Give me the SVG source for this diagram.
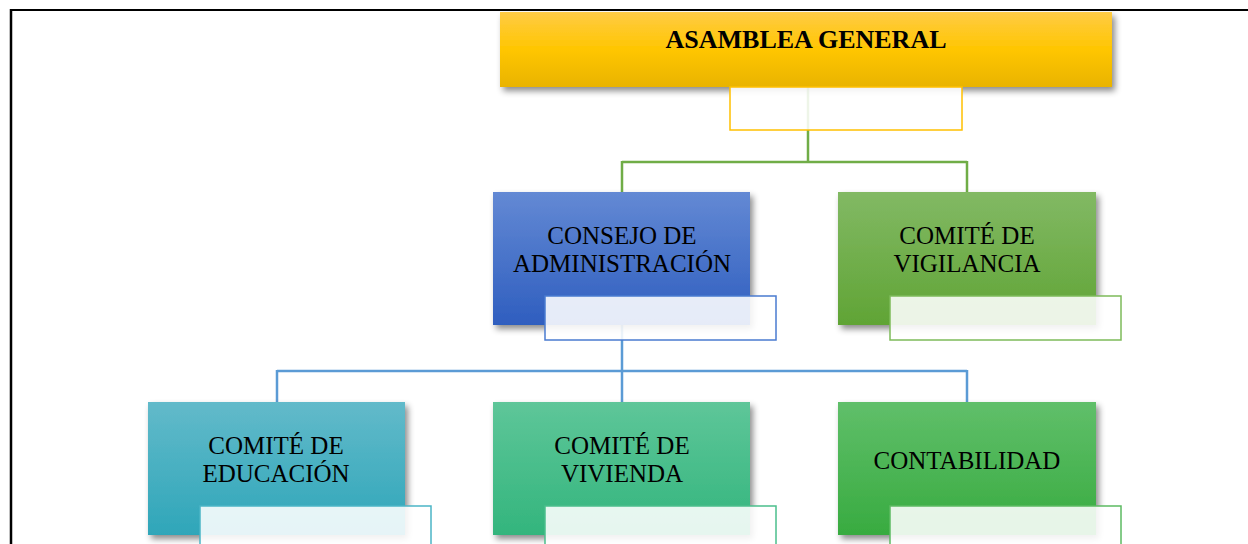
<svg xmlns="http://www.w3.org/2000/svg" width="1248" height="544" viewBox="0 0 1248 544">
<defs>
<linearGradient id="gGold" x1="0" y1="0" x2="0" y2="1"><stop offset="0" stop-color="#FFCB45"/><stop offset="0.5" stop-color="#FFC600"/><stop offset="1" stop-color="#E9B300"/></linearGradient>
<linearGradient id="gBlue" x1="0" y1="0" x2="0" y2="1"><stop offset="0" stop-color="#6389D4"/><stop offset="1" stop-color="#2F5EBF"/></linearGradient>
<linearGradient id="gOlive" x1="0" y1="0" x2="0" y2="1"><stop offset="0" stop-color="#82B964"/><stop offset="1" stop-color="#60A435"/></linearGradient>
<linearGradient id="gTeal" x1="0" y1="0" x2="0" y2="1"><stop offset="0" stop-color="#62BACA"/><stop offset="1" stop-color="#2FA6B9"/></linearGradient>
<linearGradient id="gMint" x1="0" y1="0" x2="0" y2="1"><stop offset="0" stop-color="#5EC699"/><stop offset="1" stop-color="#33B57D"/></linearGradient>
<linearGradient id="gGreen" x1="0" y1="0" x2="0" y2="1"><stop offset="0" stop-color="#60BF6A"/><stop offset="1" stop-color="#38AB40"/></linearGradient>
<filter id="shadow" x="-10%" y="-10%" width="125%" height="130%"><feDropShadow dx="3" dy="4" stdDeviation="3" flood-color="#000" flood-opacity="0.45"/></filter>
</defs>
<style>
.box{filter:url(#shadow);}
.sub{fill:#fff;fill-opacity:0.88;stroke-width:1.5;}
.lbl{font-family:"Liberation Serif","Times New Roman",serif;font-size:25px;fill:#000;text-anchor:middle;}
.bold{font-weight:bold;font-size:26px;}
.conn{fill:none;stroke-width:2.5;}
</style>
<rect width="1248" height="544" fill="#fff"/>
<g id="frame">
<line x1="10" y1="10" x2="1248" y2="10" stroke="#000" stroke-width="2"/>
<line x1="11" y1="9" x2="11" y2="544" stroke="#000" stroke-width="2.5"/>
</g>
<g id="connectors">
<path class="conn" stroke="#70AD47" d="M808,87 V162 M622,162 H967 M622,161 V192 M967,161 V192"/>
<path class="conn" stroke="#5B9BD5" d="M622,325 V371 M277,371 H967 M277,370 V402 M622,370 V402 M967,370 V402"/>
</g>
<g id="asamblea">
<rect class="box" x="500" y="12" width="612" height="75" fill="url(#gGold)"/>
<text class="lbl bold" x="806" y="48">ASAMBLEA GENERAL</text>
<rect class="sub" x="730" y="87" width="232" height="43" stroke="#FFC000"/>
</g>
<g id="consejo">
<rect class="box" x="493" y="192" width="257" height="133" fill="url(#gBlue)"/>
<text class="lbl" x="622" y="244">CONSEJO DE</text>
<text class="lbl" x="622" y="272">ADMINISTRACIÓN</text>
<rect class="sub" x="545" y="296" width="231" height="44" stroke="#4A7BD0"/>
</g>
<g id="vigilancia">
<rect class="box" x="838" y="192" width="258" height="133" fill="url(#gOlive)"/>
<text class="lbl" x="967" y="244">COMITÉ DE</text>
<text class="lbl" x="967" y="272">VIGILANCIA</text>
<rect class="sub" x="890" y="296" width="231" height="44" stroke="#7DBB5A"/>
</g>
<g id="educacion">
<rect class="box" x="148" y="402" width="257" height="133" fill="url(#gTeal)"/>
<text class="lbl" x="276" y="454">COMITÉ DE</text>
<text class="lbl" x="276" y="482">EDUCACIÓN</text>
<rect class="sub" x="200" y="506" width="231" height="44" stroke="#4BB5C6"/>
</g>
<g id="vivienda">
<rect class="box" x="493" y="402" width="257" height="133" fill="url(#gMint)"/>
<text class="lbl" x="622" y="454">COMITÉ DE</text>
<text class="lbl" x="622" y="482">VIVIENDA</text>
<rect class="sub" x="545" y="506" width="231" height="44" stroke="#4BBF8C"/>
</g>
<g id="contabilidad">
<rect class="box" x="838" y="402" width="258" height="133" fill="url(#gGreen)"/>
<text class="lbl" x="967" y="469">CONTABILIDAD</text>
<rect class="sub" x="890" y="506" width="231" height="44" stroke="#5CBA62"/>
</g>
</svg>
